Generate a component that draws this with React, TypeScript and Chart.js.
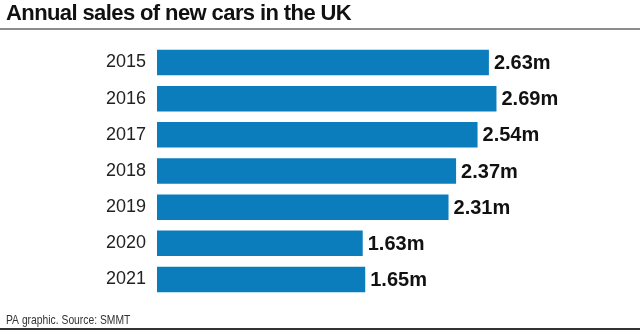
import React, { useEffect, useRef } from "react";
import { Chart, registerables } from "chart.js";

Chart.register(...registerables);

const years = ["2015", "2016", "2017", "2018", "2019", "2020", "2021"];
const sales = [2.63, 2.69, 2.54, 2.37, 2.31, 1.63, 1.65];
const valueLabels = ["2.63m", "2.69m", "2.54m", "2.37m", "2.31m", "1.63m", "1.65m"];
const titleText = "Annual sales of new cars in the UK";
const footerText = "PA graphic. Source: SMMT";

const FONT = "'Liberation Sans', Arial, Helvetica, sans-serif";

const decorPlugin = {
  id: "decor",
  afterDraw(chart: any) {
    const ctx = chart.ctx;
    const w = chart.width;
    ctx.save();
    // title
    ctx.fillStyle = "#111";
    ctx.font = `bold 22px ${FONT}`;
    ctx.textBaseline = "alphabetic";
    ctx.textAlign = "left";
    (ctx as any).letterSpacing = "-0.6px";
    ctx.fillText(titleText, 6, 20);
    (ctx as any).letterSpacing = "0px";
    // rule under title
    ctx.strokeStyle = "#666";
    ctx.lineWidth = 1.5;
    ctx.beginPath();
    ctx.moveTo(0, 29);
    ctx.lineTo(w, 29);
    ctx.stroke();
    // footer (condensed)
    ctx.save();
    ctx.fillStyle = "#333";
    ctx.font = `13.5px ${FONT}`;
    ctx.translate(6, 324);
    ctx.scale(0.765, 1);
    ctx.fillText(footerText, 0, 0);
    ctx.restore();
    // bottom rule
    ctx.strokeStyle = "#333";
    ctx.lineWidth = 2;
    ctx.beginPath();
    ctx.moveTo(0, 329);
    ctx.lineTo(w, 329);
    ctx.stroke();
    // value labels
    const meta = chart.getDatasetMeta(0);
    ctx.fillStyle = "#111";
    ctx.font = `bold 20px ${FONT}`;
    ctx.textBaseline = "middle";
    meta.data.forEach((bar: any, i: number) => {
      ctx.fillText(valueLabels[i], bar.x + 5, bar.y + 1);
    });
    ctx.restore();
  },
};

export default function App() {
  const ref = useRef<HTMLCanvasElement>(null);
  useEffect(() => {
    if (!ref.current) return;
    const chart = new Chart(ref.current, {
      type: "bar",
      data: {
        labels: years,
        datasets: [
          {
            data: sales,
            backgroundColor: "#0b7dbd",
            categoryPercentage: 1,
            barPercentage: 0.705,
          },
        ],
      },
      options: {
        indexAxis: "y",
        animation: false,
        responsive: false,
        layout: { padding: { top: 44.4, bottom: 33.4, left: 0, right: 41.3 } },
        plugins: {
          legend: { display: false },
          tooltip: { enabled: false },
          title: { display: false },
        },
        scales: {
          x: { display: false, min: 0, max: 3.5 },
          y: {
            grid: { display: false, drawTicks: false },
            border: { display: false },
            ticks: {
              color: "#222",
              font: { family: FONT, size: 18 },
              padding: 11,
            },
            afterFit(scale: any) {
              scale.width = 157;
            },
          },
        },
      },
      plugins: [decorPlugin],
    });
    return () => chart.destroy();
  }, []);
  return (
    <div style={{ position: "fixed", left: 0, top: 0, width: 640, height: 331, background: "#fff" }}>
      <canvas ref={ref} width={640} height={331} style={{ display: "block" }} />
    </div>
  );
}
